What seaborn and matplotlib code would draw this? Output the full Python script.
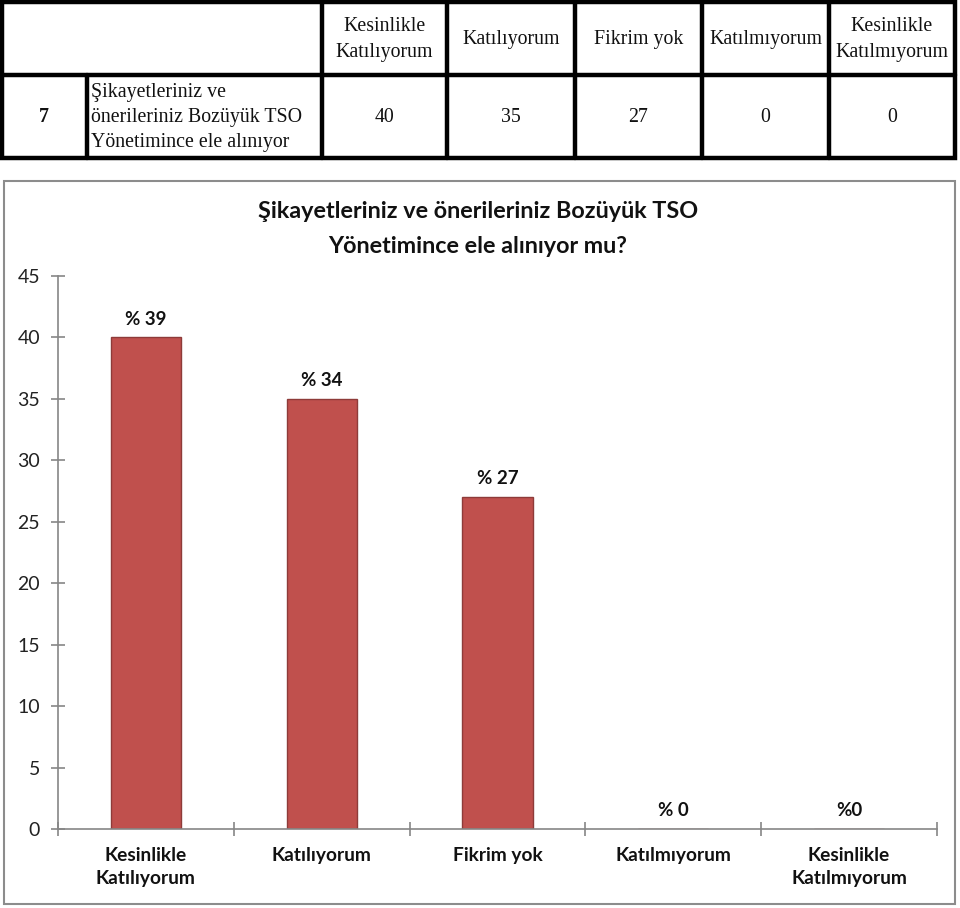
import matplotlib
matplotlib.use("Agg")
import matplotlib.pyplot as plt
import seaborn as sns
import pandas as pd
from matplotlib.patches import Rectangle
from matplotlib.lines import Line2D

# ---- data ----
categories = ["Kesinlikle\nKatılıyorum", "Katılıyorum", "Fikrim yok",
              "Katılmıyorum", "Kesinlikle\nKatılmıyorum"]
values = [40, 35, 27, 0, 0]
bar_labels = ["% 39", "% 34", "% 27", "% 0", "%0"]
yticks = [0, 5, 10, 15, 20, 25, 30, 35, 40, 45]
title = "Şikayetleriniz ve önerileriniz Bozüyük TSO\nYönetimince ele alınıyor mu?"
row_no = "7"
row_text = "Şikayetleriniz ve\nönerileriniz Bozüyük TSO\nYönetimince ele alınıyor"

sns.set_theme(style="white")
sans = ["Lato", "DejaVu Sans"]
plt.rcParams["font.family"] = sans

W, H = 960, 908
fig = plt.figure(figsize=(W / 100, H / 100), dpi=100)

# overlay axes in pixel coords for table + frames
ov = fig.add_axes([0, 0, 1, 1])
ov.set_xlim(0, W)
ov.set_ylim(H, 0)
ov.axis("off")

# ---- table ----
lw_t = 3.2
serif = ["Liberation Serif", "DejaVu Serif"]
tl, tr, tt, tb = 2, 955, 2, 158
rmid = 75
col_x = [322, 447, 575, 702, 829, tr]
ov.add_patch(Rectangle((tl, tt), tr - tl, tb - tt, fill=False, ec="black", lw=lw_t))
ov.add_line(Line2D([tl, tr], [rmid, rmid], color="black", lw=lw_t))
for x in col_x[:-1]:
    ov.add_line(Line2D([x, x], [tt, tb], color="black", lw=lw_t))
ov.add_line(Line2D([87, 87], [rmid, tb], color="black", lw=lw_t))

header_tbl = ["Kesinlikle\nKatılıyorum", "Katılıyorum", "Fikrim yok",
              "Katılmıyorum", "Kesinlikle\nKatılmıyorum"]
tfs = 14.3
for i, (h, v) in enumerate(zip(header_tbl, values)):
    cx = (col_x[i] + col_x[i + 1]) / 2
    ov.text(cx, (tt + rmid) / 2 + 1, h, ha="center", va="center", fontsize=tfs,
            family=serif, color="#111111", linespacing=1.45)
    ov.text(cx, (rmid + tb) / 2 + 1, str(v), ha="center", va="center", fontsize=tfs,
            family=serif, color="#111111")
ov.text(44, (rmid + tb) / 2 + 1, row_no, ha="center", va="center", fontsize=tfs,
        family=serif, fontweight="bold", color="#111111")
ov.text(91, (rmid + tb) / 2 + 1, row_text, ha="left", va="center", fontsize=tfs,
        family=serif, color="#111111", linespacing=1.45)

# ---- chart frame ----
ov.add_patch(Rectangle((4, 181), 951, 723, fill=False, ec="#8c8c8c", lw=1.5))

# ---- chart ----
x0, x1, y0, y1 = 58, 937, 829, 276
ax = fig.add_axes([x0 / W, 1 - y0 / H, (x1 - x0) / W, (y0 - y1) / H])
df = pd.DataFrame({"cat": categories, "val": values})
sns.barplot(data=df, x="cat", y="val", ax=ax, color="#C0504D", width=0.4,
            edgecolor="#8E3B39", linewidth=1.0, saturation=1)
ax.set_facecolor("none")
ax.set_xlim(-0.5, len(categories) - 0.5)
ax.set_ylim(0, 45)
ax.set_yticks(yticks)
ax.set_yticklabels([str(t) for t in yticks], fontsize=14, color="#222222", family=sans)
ax.set_xlabel("")
ax.set_ylabel("")
ax.set_xticks(range(len(categories)))
ax.set_xticklabels(categories, fontsize=13.8, fontweight="bold", color="#111111",
                   family=sans, linespacing=1.4)
ax.tick_params(axis="x", which="major", length=0, pad=13, bottom=True)
ax.set_xticks([i - 0.5 for i in range(len(categories) + 1)], minor=True)
ax.tick_params(axis="x", which="minor", length=10, direction="inout", color="#868686",
               width=1.2, bottom=True)
ax.tick_params(axis="y", which="major", length=10, direction="inout", color="#868686",
               width=1.2, pad=8, left=True)
for s in ["top", "right"]:
    ax.spines[s].set_visible(False)
for s in ["left", "bottom"]:
    ax.spines[s].set_color("#868686")
    ax.spines[s].set_linewidth(1.2)

for i, (v, lab) in enumerate(zip(values, bar_labels)):
    ax.annotate(lab, (i, v), xytext=(0, 7), textcoords="offset points",
                ha="center", va="bottom", fontsize=13.5, fontweight="bold", color="#111111")

ov.text(478, 229, title, ha="center", va="center", fontsize=16.8, fontweight="bold",
        color="#111111", linespacing=1.8)

fig.savefig("out.png", dpi=100)
